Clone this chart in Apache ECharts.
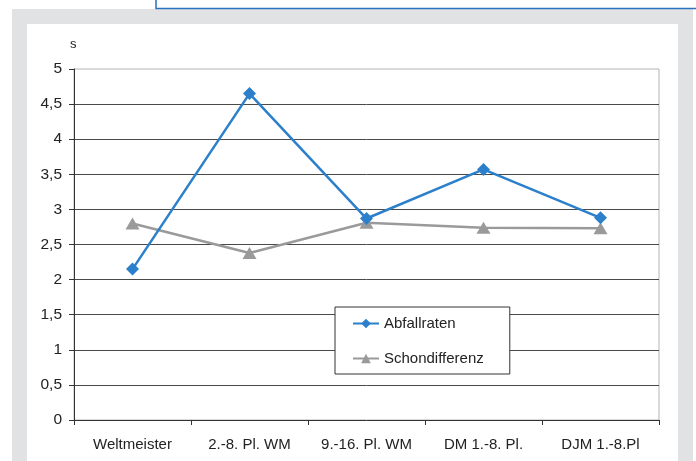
<!DOCTYPE html>
<html><head><meta charset="utf-8">
<script src="https://cdn.jsdelivr.net/npm/echarts@6/dist/echarts.min.js"></script>
<style>html,body{margin:0;padding:0;background:#fff}#c{width:696px;height:461px}</style>
</head><body><div id="c"></div>
<script>
const categories = ['Weltmeister', '2.-8. Pl. WM', '9.-16. Pl. WM', 'DM 1.-8. Pl.', 'DJM 1.-8.Pl'];
const abfallraten = [2.15, 4.65, 2.87, 3.57, 2.88];
const schondifferenz = [2.80, 2.38, 2.81, 2.74, 2.73];
const yTicks = [0, 0.5, 1, 1.5, 2, 2.5, 3, 3.5, 4, 4.5, 5];
const unitLabel = 's';

const FONT = '"Liberation Sans", Arial, sans-serif';
const chart = echarts.init(document.getElementById('c'), null, {renderer: 'canvas'});
chart.setOption({
  animation: false,
  backgroundColor: '#ffffff',
  graphic: [
    {type: 'rect', z: -10, shape: {x: 12, y: 9, width: 681, height: 460}, style: {fill: '#e1e2e3'}},
    {type: 'rect', z: -9, shape: {x: 27, y: 24, width: 651, height: 440}, style: {fill: '#ffffff'}},
    {type: 'polyline', z: -8, shape: {points: [[156, 0], [156, 8.5], [696, 8.5]]}, style: {stroke: '#2a72bd', lineWidth: 1.5, fill: null}},
    {type: 'text', left: 70, top: 38, style: {text: unitLabel, font: '13px ' + FONT, fill: '#222'}}
  ],
  grid: {left: 74, right: 37, top: 69, bottom: 41, show: true, borderColor: '#b4b4b4', borderWidth: 1, backgroundColor: 'transparent'},
  legend: {
    orient: 'vertical', left: 335, top: 307,
    backgroundColor: '#fff', borderColor: '#333', borderWidth: 1,
    padding: [9, 26, 8, 17], itemGap: 20, itemWidth: 26, itemHeight: 12,
    textStyle: {fontFamily: FONT, fontSize: 15, color: '#222'},
    data: ['Abfallraten', 'Schondifferenz']
  },
  xAxis: {
    type: 'category', data: categories, boundaryGap: true,
    axisLine: {lineStyle: {color: '#333', width: 1}},
    axisTick: {show: true, length: 5, lineStyle: {color: '#333'}},
    axisLabel: {interval: 0, fontFamily: FONT, fontSize: 15, color: '#222', margin: 17},
    splitLine: {show: false}
  },
  yAxis: {
    type: 'value', min: 0, max: 5, interval: 0.5,
    axisLine: {show: true, lineStyle: {color: '#333', width: 1}},
    axisTick: {show: true, length: 5, lineStyle: {color: '#333'}},
    axisLabel: {fontFamily: FONT, fontSize: 15.5, color: '#222', margin: 12,
      formatter: v => yTicks.includes(v) ? String(v).replace('.', ',') : ''},
    splitLine: {show: true, showMaxLine: false, showMinLine: false, lineStyle: {color: '#4a4a4a', width: 1}}
  },
  series: [
    {name: 'Abfallraten', type: 'line', data: abfallraten, symbol: 'diamond', symbolSize: 13,
      lineStyle: {color: '#2b7fcb', width: 2.5}, itemStyle: {color: '#2b7fcb'}, z: 3},
    {name: 'Schondifferenz', type: 'line', data: schondifferenz, symbol: 'triangle', symbolSize: [14, 12],
      lineStyle: {color: '#9a9a9a', width: 2.5}, itemStyle: {color: '#9a9a9a'}, z: 2}
  ]
});
</script></body></html>
